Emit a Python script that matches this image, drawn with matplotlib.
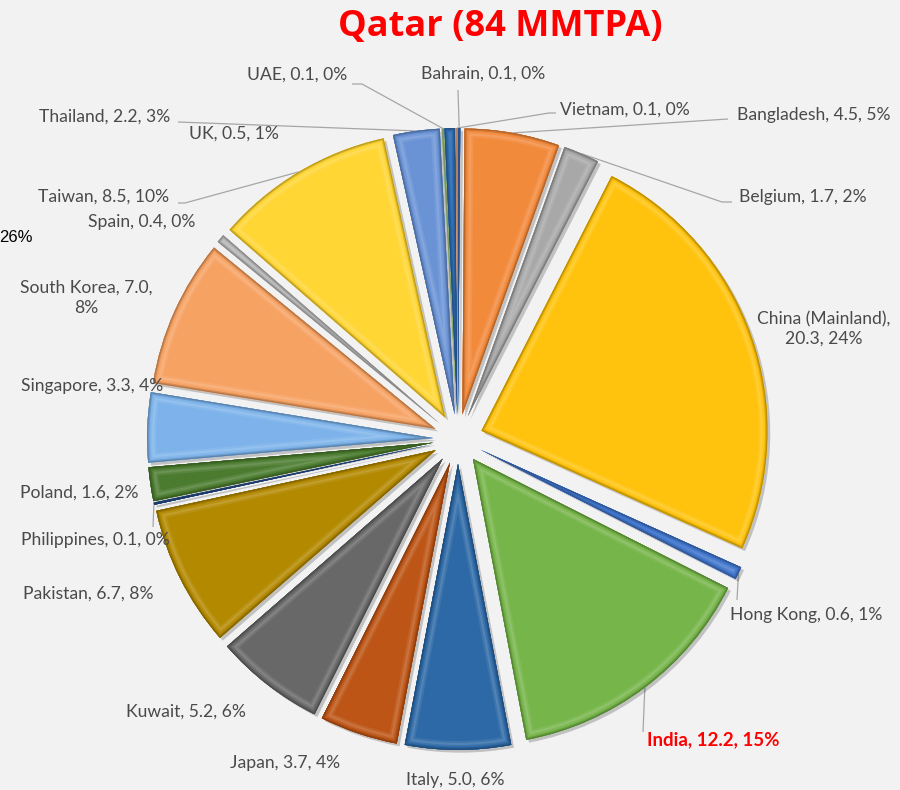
import numpy as np
import matplotlib
matplotlib.use("Agg")
import matplotlib.pyplot as plt
from matplotlib.patches import Wedge
from matplotlib import patheffects as pe
from matplotlib.colors import to_rgb

# LNG exports by destination (MMTPA)
countries = ["Bahrain", "Bangladesh", "Belgium", "China (Mainland)", "Hong Kong",
             "India", "Italy", "Japan", "Kuwait", "Pakistan", "Philippines",
             "Poland", "Singapore", "South Korea", "Spain", "Taiwan", "Thailand",
             "UAE", "UK", "Vietnam"]
volumes = [0.1, 4.5, 1.7, 20.3, 0.6, 12.2, 5.0, 3.7, 5.2, 6.7, 0.1,
           1.6, 3.3, 7.0, 0.4, 8.5, 2.2, 0.1, 0.5, 0.1]
colors = ["#3A6FC0", "#F28A3C", "#A8A8A8", "#FFC30D", "#4176CC",
          "#76B54A", "#2D69A6", "#BD5516", "#686868", "#B38900", "#28508E",
          "#4B7B2F", "#7DB3EA", "#F6A263", "#BDBDBD", "#FFD633", "#6A93D6",
          "#A9D18E", "#2F6DB3", "#F4B183"]
title = "Qatar (84 MMTPA)"

BG = "#F2F2F2"
TXT = "#4A4A4A"
LINE = "#A6A6A6"

W, H = 900, 790
CX, CY, S = 458, 439, 286  # pie centre and radius in pixels


def P(x, y):
    """pixel position (from top-left) -> data coordinates"""
    return ((x - CX) / S, (CY - y) / S)


fig = plt.figure(figsize=(W / 100, H / 100), dpi=100, facecolor=BG)
ax = fig.add_axes([0, 0, 1, 1])
ax.set_facecolor(BG)

wedges, _ = ax.pie(volumes, colors=colors, startangle=90, counterclock=False,
                   explode=[0.087] * len(volumes), radius=1, center=(0, 0),
                   wedgeprops=dict(linewidth=0))
ax.set_xlim(-CX / S, (W - CX) / S)
ax.set_ylim(-(H - CY) / S, CY / S)
ax.set_aspect("auto")
ax.axis("off")


def lighten(c, f):
    r = np.array(to_rgb(c))
    return tuple(r + (1 - r) * f)


def darken(c, f):
    return tuple(np.array(to_rgb(c)) * (1 - f))


# bevelled look: soft bands of colour along the inside of each slice edge
for w, c in zip(wedges, colors):
    w.set_edgecolor("none")
    w.set_path_effects([pe.SimplePatchShadow(offset=(2, -2), shadow_rgbFace="k", alpha=0.2),
                        pe.Normal()])
    bands = [(9, lighten(c, 0.08)), (7, lighten(c, 0.18)), (5, lighten(c, 0.08)),
             (3.5, c), (2.2, darken(c, 0.14)), (1.0, darken(c, 0.28))]
    for width_px, col in bands:
        p = Wedge(w.center, w.r, w.theta1, w.theta2, facecolor="none",
                  edgecolor=col, linewidth=2 * width_px * 0.72, joinstyle="round")
        ax.add_patch(p)
        p.set_clip_path(w)

total = sum(volumes)
labels = []
for name, v in zip(countries, volumes):
    labels.append(f"{name}, {v:.1f}, {round(100 * v / total):.0f}%")
labels[countries.index("China (Mainland)")] = labels[countries.index("China (Mainland)")].replace("), ", "),\n")
labels[countries.index("South Korea")] = labels[countries.index("South Korea")].replace(".0, ", ".0,\n")

label_pos = {
    "Bahrain": (483, 74), "Vietnam": (625, 110), "Bangladesh": (814, 115),
    "Belgium": (803, 197), "China (Mainland)": (824, 329), "Hong Kong": (806, 615),
    "India": (713, 740), "Italy": (455, 780), "Japan": (285, 763),
    "Kuwait": (186, 712), "Pakistan": (88, 594), "Philippines": (95, 540),
    "Poland": (79, 493), "Singapore": (92, 386), "South Korea": (86, 298),
    "Spain": (142, 222), "Taiwan": (104, 197), "Thailand": (105, 117),
    "UK": (234, 134), "UAE": (297, 75),
}

for name, lab in zip(countries, labels):
    x, y = label_pos[name]
    if name == "India":
        ax.text(*P(x, y), lab, ha="center", va="center", fontsize=13.5,
                family="Lato", fontweight="bold", color="#FF0000")
    else:
        ax.text(*P(x, y), lab, ha="center", va="center", fontsize=12.6,
                family="Lato", color=TXT, linespacing=1.3)

# leader lines from slice edge to label
leaders = {
    "Bahrain": [(458, 90)],
    "Vietnam": [(549, 113), (556, 113)],
    "Bangladesh": [(728, 119)],
    "Belgium": [(722, 202), (732, 202)],
    "Hong Kong": [(737, 600)],
    "India": [(643, 732)],
    "Philippines": [(153, 527)],
    "Taiwan": [(185, 203), (178, 203)],
    "Thailand": [(178, 122)],
    "UAE": [(362, 84), (352, 84)],
}
for name, pts in leaders.items():
    w = wedges[countries.index(name)]
    tm = np.deg2rad(0.5 * (w.theta1 + w.theta2))
    x0 = w.center[0] + w.r * np.cos(tm)
    y0 = w.center[1] + w.r * np.sin(tm)
    xs = [x0] + [P(*p)[0] for p in pts]
    ys = [y0] + [P(*p)[1] for p in pts]
    ax.plot(xs, ys, color=LINE, lw=0.9, solid_capstyle="butt", zorder=0.5)

ax.text(*P(33, 238), "26%", ha="right", va="center", fontsize=12,
        family="Liberation Sans", color="black")

ax.text(*P(500, 27), title, ha="center", va="center", fontsize=26,
        family="Open Sans", fontweight="bold", color="#FF0000")

fig.savefig("out.png", dpi=100, facecolor=BG)
